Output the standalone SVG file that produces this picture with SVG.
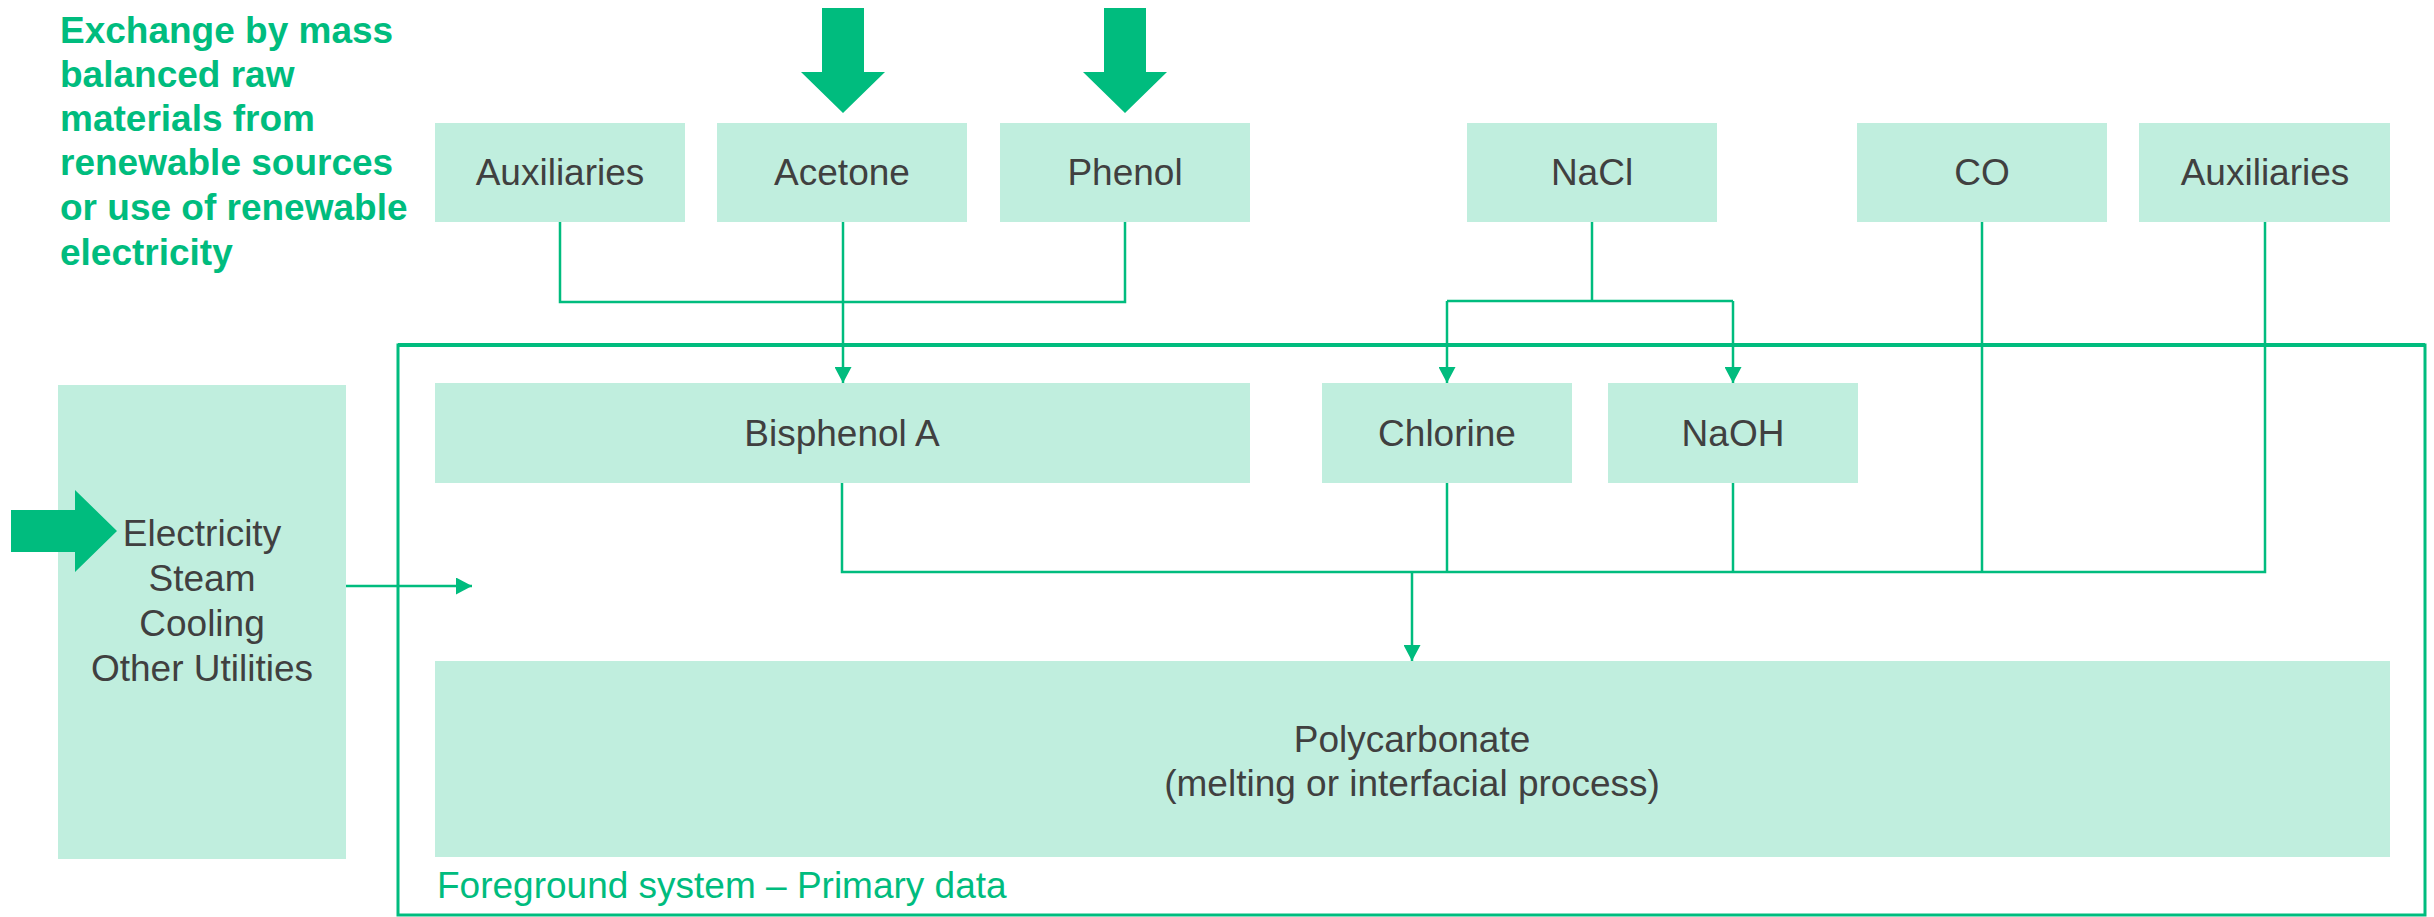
<svg xmlns="http://www.w3.org/2000/svg" width="2434" height="917" viewBox="0 0 2434 917">
  <style>
    .box { fill: #C0EEDE; }
    .lbl { font-family: "Liberation Sans", Arial, sans-serif; font-size: 37px; fill: #404040; text-anchor: middle; }
    .note { font-family: "Liberation Sans", Arial, sans-serif; font-size: 37px; font-weight: bold; fill: #00BC7E; }
    .fg { font-family: "Liberation Sans", Arial, sans-serif; font-size: 37px; fill: #00BC7E; }
    .con { fill: none; stroke: #00BC7E; stroke-width: 2.5; }
    .big { fill: #00BC7E; }
  </style>
  <defs>
    <marker id="ah" viewBox="0 0 16 17" refX="16" refY="8.5" markerWidth="16" markerHeight="17" orient="auto" markerUnits="userSpaceOnUse">
      <path d="M0 0 L16 8.5 L0 17 Z" fill="#00BC7E"/>
    </marker>
  </defs>
  <rect width="2434" height="917" fill="#FFFFFF"/>

  <g id="note">
    <text class="note" x="60" y="43">Exchange by mass</text>
    <text class="note" x="60" y="87">balanced raw</text>
    <text class="note" x="60" y="131">materials from</text>
    <text class="note" x="60" y="175">renewable sources</text>
    <text class="note" x="60" y="220">or use of renewable</text>
    <text class="note" x="60" y="265">electricity</text>
  </g>

  <g id="foreground">
    <rect x="398" y="345" width="2027" height="570" fill="none" stroke="#00BC7E" stroke-width="3"/>
    <line x1="398" y1="345" x2="2425" y2="345" stroke="#00BC7E" stroke-width="4"/>
    <text class="fg" x="437" y="898">Foreground system – Primary data</text>
  </g>

  <g id="auxiliaries1"><rect class="box" x="435" y="123" width="250" height="99"/><text class="lbl" x="560" y="185">Auxiliaries</text></g>
  <g id="acetone"><rect class="box" x="717" y="123" width="250" height="99"/><text class="lbl" x="842" y="185">Acetone</text></g>
  <g id="phenol"><rect class="box" x="1000" y="123" width="250" height="99"/><text class="lbl" x="1125" y="185">Phenol</text></g>
  <g id="nacl"><rect class="box" x="1467" y="123" width="250" height="99"/><text class="lbl" x="1592" y="185">NaCl</text></g>
  <g id="co"><rect class="box" x="1857" y="123" width="250" height="99"/><text class="lbl" x="1982" y="185">CO</text></g>
  <g id="auxiliaries2"><rect class="box" x="2139" y="123" width="251" height="99"/><text class="lbl" x="2265" y="185">Auxiliaries</text></g>

  <g id="bisphenol"><rect class="box" x="435" y="383" width="815" height="100"/><text class="lbl" x="842" y="446">Bisphenol A</text></g>
  <g id="chlorine"><rect class="box" x="1322" y="383" width="250" height="100"/><text class="lbl" x="1447" y="446">Chlorine</text></g>
  <g id="naoh"><rect class="box" x="1608" y="383" width="250" height="100"/><text class="lbl" x="1733" y="446">NaOH</text></g>

  <g id="polycarbonate">
    <rect class="box" x="435" y="661" width="1955" height="196"/>
    <text class="lbl" x="1412" y="752">Polycarbonate</text>
    <text class="lbl" x="1412" y="796">(melting or interfacial process)</text>
  </g>

  <g id="utilities">
    <rect class="box" x="58" y="385" width="288" height="474"/>
    <text class="lbl" x="202" y="546">Electricity</text>
    <text class="lbl" x="202" y="591">Steam</text>
    <text class="lbl" x="202" y="636">Cooling</text>
    <text class="lbl" x="202" y="681">Other Utilities</text>
  </g>

  <g id="big-arrows">
    <polygon class="big" points="822,8 864,8 864,72 885,72 843,113 801,72 822,72"/>
    <polygon class="big" points="1104,8 1146,8 1146,72 1167,72 1125,113 1083,72 1104,72"/>
    <polygon class="big" points="11,510 75,510 75,490 117,531 75,572 75,552 11,552"/>
  </g>

  <g id="connectors">
    <path class="con" d="M560 222 V302 H1125 V222"/>
    <path class="con" d="M843 222 V383" marker-end="url(#ah)"/>
    <path class="con" d="M1592 222 V301"/>
    <path class="con" d="M1447 301 H1733"/>
    <path class="con" d="M1447 301 V383" marker-end="url(#ah)"/>
    <path class="con" d="M1733 301 V383" marker-end="url(#ah)"/>
    <path class="con" d="M842 483 V572 H2265 V222"/>
    <path class="con" d="M1447 483 V572"/>
    <path class="con" d="M1733 483 V572"/>
    <path class="con" d="M1982 222 V572"/>
    <path class="con" d="M1412 572 V661" marker-end="url(#ah)"/>
    <path class="con" d="M346 586 H472" marker-end="url(#ah)"/>
  </g>
</svg>
